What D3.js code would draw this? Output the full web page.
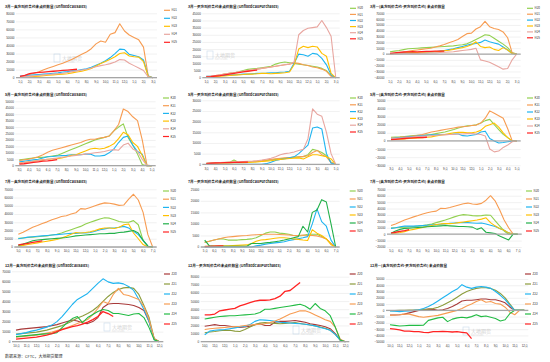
<!DOCTYPE html>
<html>
<head>
<meta charset="utf-8">
<script src="https://cdn.jsdelivr.net/npm/d3@7"></script>
<style>
  body { margin: 0; background: #fff; }
  svg { display: block; font-family: "Noto Sans CJK SC", "Noto Sans", sans-serif; }
</style>
</head>
<body>
<svg id="chart" width="550" height="362"></svg>
<script>
// ---- tick labels (one per month, half-month steps in the series) ----
const monthsMar = ['1月','2月','3月','4月','5月','6月','7月','8月','9月','10月','11月','12月','1月','2月','3月'];
const monthsMay = ['3月','4月','5月','6月','7月','8月','9月','10月','11月','12月','1月','2月','3月','4月','5月'];
const monthsJul = ['5月','6月','7月','8月','9月','10月','11月','12月','1月','2月','3月','4月','5月','6月','7月'];
const monthsDec = ['10月','11月','12月','1月','2月','3月','4月','5月','6月','7月','8月','9月','10月','11月','12月'];

// ---- legend names ----
const namesMarSales = ['H21','H22','H23','H24','H25'];
const namesMar = ['H20','H21','H22','H23','H24','H25'];
const namesMay = ['K20','K21','K22','K23','K24','K25'];
const namesJul = ['N20','N21','N22','N23','N24','N25'];
const namesDec = ['Z20','Z21','Z22','Z23','Z24','Z25'];

// ---- 3月 ----
const marSales = [
  [1000,2500,4000,5500,7500,10000,12000,14000,16000,18000,20500,23000,26000,29000,32000,36000,42000,45500,44000,54000,56000,67000,58000,53000,50000,47000,38000,2000,0],
  [2000,2500,3000,3500,4000,4500,5000,5500,6000,7000,7500,8500,9000,10000,11000,13000,15500,18000,21000,25000,30000,35500,35000,29000,27500,26000,22000,2000,0],
  [500,800,1000,1500,2000,2500,3000,3500,4000,4500,5000,6000,7000,8000,9500,11500,14500,17500,20000,23000,26000,30000,31000,27000,26000,25500,20000,1500,0],
  [1000,1500,2000,2500,3000,3500,4000,4500,5000,5500,6500,7500,8500,9500,10500,12000,13500,15000,16000,17500,19500,22500,22000,18000,15000,12000,9000,1000,0],
  [1500,3000,5000,6000,6500,7000,7500,8000,8500,9000,9500,10000,10500]
];
const marPurch = [
  [500,800,1200,1800,2500,3000,3500,4200,5000,5800,6200,6500,7000,7500,8000,9500,10500,11000,10500,10000,9500,9000,8500,8000,7500,6500,5000,1500,0],
  [500,1000,1500,2000,2500,3000,3500,4000,4500,5000,5500,6000,6500,7000,7500,8000,8500,9000,9500,10500,10000,9000,8500,7500,7000,6000,4500,1000,0],
  [1000,1000,1200,1500,1500,1800,2000,2200,2500,2500,2800,3000,3000,3200,3500,3500,3800,4000,4500,10000,16500,16000,15000,17000,16500,13500,9000,2000,0],
  [500,500,800,1000,1200,1500,1800,2000,2200,2500,2500,2800,3000,3000,2800,3000,3200,3500,4000,9000,20000,22000,21000,22000,21500,17000,15000,3000,0],
  [1000,1200,1500,2000,2500,3000,3500,4000,4500,5000,5500,6000,6500,7000,7500,8000,8500,9000,9500,11000,30000,33000,34500,35000,35500,40000,35000,29000,500],
  [500,800,1200,1500,2000,2500,3000,3500,4000,4500,5000,5300]
];
const marDiff = [
  [4000,5000,6000,7500,9000,9500,10000,10500,11000,11500,12000,12500,13000,13500,14000,15000,16000,17500,21000,25000,29000,33000,32000,27000,22000,17000,11000,2000,0],
  [0,1000,2000,3000,4500,6000,7000,8000,9000,10000,12000,14000,16500,19500,22000,25000,30000,35000,36000,43000,47000,56000,47000,44000,42000,38000,28000,2000,0],
  [1000,1000,1500,1500,2000,2500,2500,3000,3000,3500,4000,5000,6000,7500,9000,11000,13000,15000,17000,18000,20000,24000,21000,19000,17000,12000,7000,1000,0],
  [500,1000,1200,1500,2000,2200,2500,2800,3000,3500,4000,4500,5500,6500,8000,9500,11000,13000,16000,21000,13000,11000,12000,8000,6000,11000,7000,1000,0],
  [0,500,500,800,1000,1000,1200,1500,1500,1800,2000,2500,3000,3500,4000,5000,6000,7000,8000,10000,-10000,-12000,-14000,-18000,-22000,-26000,-25000,-10000,0],
  [1000,2000,3000,3500,3800,4000,3800,4200,4500,4500,5000,5000,5000]
];

// ---- 5月 ----
const maySales = [
  [4500,5000,5500,6000,6500,6500,7000,7500,8000,9500,11000,12500,14000,15500,17000,18500,20000,21000,22000,23000,27000,30000,32500,22000,16000,9000,1000,0,0],
  [4000,4500,5000,6000,7000,8500,10500,12000,13000,14000,15000,16000,17000,18000,19500,20500,20500,21500,22000,23000,27000,32000,44000,42000,38000,35000,20000,500,0],
  [3000,3500,4000,4500,5000,6000,7000,7200,7500,7800,8000,8500,8500,8500,9000,9000,7500,7500,8000,10000,13000,18000,22000,23000,16000,11000,9000,0,0],
  [2000,2500,3000,3500,4000,4500,5000,5200,5500,6000,7000,8000,8500,10000,11500,13000,13500,13000,13500,15000,17000,21000,26000,24000,18000,15000,8000,0,0],
  [2000,2500,3000,3500,4000,4500,5000,5500,6000,6500,7000,7500,8000,8500,9000,9500,10000,10500,11000,12000,12500,12000,16000,17500,13000,11000,5000,0,0],
  [1200,1500,2000,2500,3000,3500,3800,4200,4700]
];
const mayPurch = [
  [500,600,700,800,800,900,2000,900,1000,1100,1200,1300,1500,1800,2000,2300,2600,2800,3000,3300,3500,3600,4500,7000,6500,5500,4000,1000,0],
  [500,500,600,700,800,900,1000,1000,1100,1200,1300,1500,1700,2000,2300,2600,2800,3000,3200,3400,3500,3700,4000,5500,6500,4500,3500,800,0],
  [0,0,0,0,0,0,0,0,0,0,0,0,0,300,1000,1800,2300,2600,3000,3500,5000,7000,9000,17000,17500,16500,5000,500,0],
  [300,400,500,500,600,600,700,700,800,900,1000,1100,1300,1500,1700,2000,2300,2500,2700,2900,3000,2500,3500,4500,4500,4000,3500,2500,0],
  [500,600,700,800,900,1000,1100,1200,1300,1400,1500,1700,2000,2400,2800,3500,4500,5000,5300,5800,6500,7000,12000,26000,23500,22500,15000,5000,0],
  [300,500,600,700,800,800,900,900,1000,1000]
];
const mayDiff = [
  [4500,4800,5000,5500,6000,6500,7000,7000,7500,8000,9000,10000,11000,12500,14000,16000,17500,18500,19000,20000,22000,25000,26500,20000,14000,8000,4000,0,0],
  [3500,4000,4500,5000,5500,6000,7000,8000,9500,11000,12000,13000,14000,15000,16000,17000,17500,18000,19000,19500,22000,28000,37000,34000,31000,28000,15000,0,0],
  [3000,3500,4000,4500,5000,5500,6000,6500,7000,7500,7500,8000,8000,8000,8500,8500,6500,6000,7000,8000,11000,12000,3000,0,-2500,-2000,-1000,0,0],
  [1500,1800,2000,2500,3000,3500,3800,4000,4500,5000,6000,7000,8000,9000,10000,10500,10500,10000,10000,11000,13000,18000,20000,22000,17000,10000,4000,0,0],
  [2500,3000,3500,4000,4500,5000,5500,6000,6000,6500,7000,7500,7500,8000,8000,8500,8500,9000,9000,8500,8000,6000,-10000,-13500,-12500,-8000,-5000,-1000,0],
  [1500,2000,2500,3000,3500,3800,4000,4200,4500]
];

// ---- 7月 ----
const julSales = [
  [10500,11000,11500,12000,12500,13000,13500,14500,15500,17000,19000,21000,23000,25000,28000,30000,32000,34000,35500,35000,33000,31000,30000,30000,32000,27000,8000,1000,0],
  [15500,18000,21000,24000,26000,28500,30500,33000,35000,37000,38000,40000,41500,46500,46000,48000,50000,52000,53500,53000,52000,50500,51000,58000,64000,57000,42000,15000,0],
  [10000,11000,12000,12500,13000,13500,14000,14500,15000,15500,16000,16500,16500,17000,17000,17500,19000,21000,22000,23000,23000,24000,25000,23000,19000,15000,8000,1000,0],
  [1000,2000,3000,4000,5000,6000,7000,8000,9000,11000,13000,15500,17500,17000,17500,18500,20000,22000,23000,23000,22500,24000,27000,28000,17000,10000,3000,0,0],
  [2000,3500,5500,7500,8500,9000,9500,10000,10500,11000,11500,12500,13500,14000,14500,15000,15500,16000,16000,16500,16500,17500,18000,19000,20000,17000,8000,1000,0],
  [2500,3500,4500,5500,6500,7500]
];
const julPurch = [
  [2000,2500,3000,3500,3500,3000,3000,3000,3200,3300,3500,4000,5000,6000,6500,6500,6000,5800,5500,5000,4800,5000,5500,5500,5500,4500,3500,1500,0],
  [2000,2500,3000,3500,4000,4300,4500,4700,4900,5000,5200,5300,5400,5500,5500,5500,5400,5300,5200,5000,5000,5200,5000,5000,4800,4200,3500,1500,0],
  [0,0,0,0,0,0,0,0,0,0,0,500,800,1200,1500,1800,2000,2300,2800,3200,3600,4000,4500,10000,16500,11000,9000,3000,0],
  [300,300,400,400,500,500,600,700,800,900,1500,2500,3000,3200,3500,3800,4000,4000,3800,3500,3300,3000,2800,7500,6000,5000,3500,1000,0],
  [3000,500,300,300,300,300,300,300,300,300,1500,1500,1500,1800,2000,2300,2600,3000,3500,4000,4500,9000,6500,15000,16000,20500,19500,10000,0],
  [200,300,400,500,500]
];
const julDiff = [
  [9500,10000,10500,11000,11500,12000,12500,13500,14500,16000,18000,20000,22000,24500,27000,29000,30500,30000,29000,28500,29000,30000,29500,21000,13000,5000,0,0,0],
  [13500,16000,19000,22000,24500,27000,29000,31500,33500,35000,36000,40500,40000,41500,43500,45500,47500,48500,47000,46500,48000,53000,60000,52000,38000,22000,10000,0,0],
  [9000,10000,11500,12500,12500,12500,13000,13500,14000,14500,15000,15500,16000,17000,17500,18000,18000,18000,17500,17000,17500,16000,14000,12000,9000,6000,2000,0,0],
  [1000,1500,2500,4000,6000,7500,9000,10500,12000,13500,15000,16000,16500,16500,17000,18000,19000,20000,21000,22000,23500,25500,18000,13000,9000,6000,2000,0,0],
  [1500,5000,7500,9000,9500,10000,10500,11000,11500,12000,12500,13000,13500,13000,12500,12000,12000,11500,11000,7500,10000,3000,2000,1000,-3000,-6000,-9000,0,0],
  [1500,3000,4500,5500,7000]
];

// ---- 12月 ----
const decSales = [
  [11500,12500,13000,13500,14000,14500,15000,16000,17000,18500,20000,21500,20500,18500,18000,20000,24000,34000,37500,38000,38000,37500,37000,36000,34000,31000,20000,3000,0],
  [7500,8000,8500,9000,9500,10500,11500,13000,14500,16000,18000,20500,23500,25500,28000,31000,35000,40000,45000,49000,52000,53500,54000,53000,47000,36000,24000,3000,0],
  [7000,8000,9000,10500,11500,13000,14500,16500,20000,25000,31000,37000,42000,45000,48000,53000,58000,62500,59500,58000,58500,57500,55000,51000,42000,32000,20000,2000,0],
  [4500,5000,5500,6000,6500,7500,8500,9500,11000,12500,14000,16000,18000,20000,22000,27000,33000,40000,38000,47000,53000,47000,46000,44000,42000,35000,22000,3000,0],
  [5000,5500,6000,6500,7000,7500,7800,8000,9000,14000,19000,23000,25000,19000,24000,27000,30000,32000,31000,28000,28000,27000,26000,27500,28000,24000,14000,2000,0],
  [2500,3000,3500,4000,4500,5500,6500,8000,10000,12000,13500,15000,16000,17500,19500,22000,25000,30000,28000,25000]
];
const decPurch = [
  [19000,20000,21000,20000,20000,19000,18000,17500,18000,19000,21000,22000,20000,20000,24000,25000,25000,25500,26000,25000,24000,22000,21000,20000,18500,16000,10000,2000,0],
  [11000,12000,12500,13500,14000,14000,13000,12500,15000,18000,21000,23000,23500,23000,22500,22000,22500,23000,23500,22500,21500,20500,19500,18000,16500,14000,9000,2000,0],
  [8500,13000,14000,14500,15000,16000,17000,18000,19000,21000,25000,27000,26500,26000,25000,24000,23500,23000,22500,22000,21500,20500,19500,17500,16000,14000,9000,2000,0],
  [15000,16000,16500,17000,17500,18000,18500,19000,20000,20500,21000,21500,22000,23500,25500,28000,31000,34000,36000,38000,38000,36000,33000,30000,27000,25000,18000,3000,0],
  [28000,29000,30000,31000,31500,32000,32000,32500,33000,33500,34000,36000,40000,40000,41000,42000,43000,44000,45000,46000,44000,40000,47000,41000,38000,32000,18000,2000,0],
  [33000,33000,34000,38000,39000,40000,41000,44000,46000,48000,50000,51000,51000,51500,53000,56000,62000,63000,68000,73000]
];
const decDiff = [
  [-7500,-7500,-7000,-6000,-4000,-2000,0,1000,2000,1500,0,1000,3000,6000,10000,15000,16000,16000,17000,18000,18000,17000,17000,15000,12000,5000,0,0,0],
  [-500,-500,0,0,500,500,1000,1500,2000,3000,5000,8000,12000,16000,21000,26000,30000,33000,35000,36000,36000,35000,32000,27000,20000,10000,0,0,0],
  [-1000,-1500,-2000,-1500,-1000,0,1000,3000,6000,10000,15000,20000,25000,30000,34000,41000,37000,35000,37000,38000,37000,35000,30000,24000,17000,8000,0,0,0],
  [-8000,-7500,-7000,-6000,-6000,-8000,-10000,-11000,-10000,-9000,-8000,-6000,-4000,-2000,0,3000,7000,10000,14000,17000,13000,14000,11000,10000,5000,-3000,-7000,0,0],
  [-23000,-24000,-25000,-24500,-24000,-24000,-24000,-23500,-16000,-14000,-12000,-11000,-18000,-14000,-12000,-11000,-12000,-10000,-7000,-10000,-9000,-11000,-13000,-17000,-15000,-5000,0,0,0],
  [-29000,-30000,-31000,-33000,-33000,-34000,-34000,-35000,-35500,-34000,-34000,-33500,-34000,-34500,-34000,-35000,-36000,-45000]
];

// ---- colours ----
const colorsMarSales = ['#f79c52','#1fb4f0','#ffc000','#e8a6a0','#ff2323'];
const colorsSix = ['#92d050','#f79c52','#1fb4f0','#ffc000','#e8a6a0','#ff2323'];
const colorsJul = ['#92d050','#f79c52','#1fb4f0','#ffc000','#22b04a','#ff2323'];
const colorsDec = ['#a83a3a','#8c9c3c','#1fb4f0','#f79c52','#22bb44','#ff2323'];

const titleSales = m => `${m}—卖方叫价合约未点价数量 (UnfixedCallSales)`;
const titlePurch = m => `${m}—买方叫价合约未点价数量 (UnfixedCallPurchases)`;
const titleDiff = m => `${m}—(卖方叫价合约-买方叫价合约) 未点价数量`;

const colX = [0, 183, 365];
const rowY = [0, 88, 176, 264];

const panels = [
  {c:0,r:0,title:titleSales('3月'),labels:monthsMar,names:namesMarSales,colors:colorsMarSales,data:marSales,dom:[0,80000],step:10000,xr:[20,153],yr:[77.7,13.3],tY:6.5,lY:82.5,lgx:164,lgy:10.3,lgdy:8,mark:[62,60]},
  {c:1,r:0,title:titlePurch('3月'),labels:monthsMar,names:namesMar,colors:colorsSix,data:marPurch,dom:[0,45000],step:5000,xr:[23.3,152.7],yr:[77.7,13.3],tY:6.5,lY:82.5,lgx:167,lgy:8.3,lgdy:6.1,mark:[32,57]},
  {c:2,r:0,title:titleDiff('3月'),labels:monthsMar,names:namesMar,colors:colorsSix,data:marDiff,dom:[-40000,70000],step:10000,xr:[25,151.7],yr:[77.3,13.3],tY:6.5,lY:82.5,lgx:162,lgy:8.3,lgdy:5.9},
  {c:0,r:1,title:titleSales('5月'),labels:monthsMay,names:namesMay,colors:colorsSix,data:maySales,dom:[0,50000],step:5000,xr:[19.3,151.7],yr:[77.7,13.3],tY:6.5,lY:82.7,lgx:163,lgy:10,lgdy:7.7},
  {c:1,r:1,title:titlePurch('5月'),labels:monthsMay,names:namesMay,colors:colorsSix,data:mayPurch,dom:[0,30000],step:5000,xr:[23.3,152.7],yr:[76.3,12.3],tY:6.5,lY:82.3,lgx:167,lgy:10,lgdy:6.8},
  {c:2,r:1,title:titleDiff('5月'),labels:monthsMay,names:namesMay,colors:colorsSix,data:mayDiff,dom:[-30000,50000],step:10000,xr:[26,151.7],yr:[77.3,12.3],tY:6.5,lY:82.3,lgx:162,lgy:10,lgdy:7},
  {c:0,r:2,title:titleSales('7月'),labels:monthsJul,names:namesJul,colors:colorsJul,data:julSales,dom:[0,70000],step:10000,xr:[18.3,152.7],yr:[71,13.3],tY:5.5,lY:76.3,lgx:163,lgy:15,lgdy:8.2},
  {c:1,r:2,title:titlePurch('7月'),labels:monthsJul,names:namesJul,colors:colorsJul,data:julPurch,dom:[0,25000],step:5000,xr:[21.7,152.7],yr:[71,13.3],tY:5.5,lY:76.3,lgx:166.7,lgy:15,lgdy:8},
  {c:2,r:2,title:titleDiff('7月'),labels:monthsJul,names:namesJul,colors:colorsJul,data:julDiff,dom:[-20000,70000],step:10000,xr:[26,152.7],yr:[71,13.3],tY:5.5,lY:76.3,lgx:161,lgy:15,lgdy:8},
  {c:0,r:3,title:titleSales('12月'),labels:monthsDec,names:namesDec,colors:colorsDec,data:decSales,dom:[0,70000],step:10000,xr:[16,159.3],yr:[77.7,7.3],tY:1.8,lY:83.3,lgx:164,lgy:10,lgdy:10,mark:[112,65]},
  {c:1,r:3,title:titlePurch('12月'),labels:monthsDec,names:namesDec,colors:colorsDec,data:decPurch,dom:[0,80000],step:10000,xr:[21.7,162.3],yr:[77.7,12.7],tY:1.8,lY:83.3,lgx:166.7,lgy:10,lgdy:10,mark:[118,68]},
  {c:2,r:3,title:titleDiff('12月'),labels:monthsDec,names:namesDec,colors:colorsDec,data:decDiff,dom:[-50000,50000],step:10000,xr:[25,159.3],yr:[77.7,15],tY:1.8,lY:83.3,lgx:160,lgy:10,lgdy:10,mark:[106,69]}
];

const svg = d3.select('#chart');

panels.forEach(p => {
  const g = svg.append('g')
    .attr('transform', `translate(${colX[p.c]},${rowY[p.r]})`);

  const x = d3.scaleLinear().domain([0, 14]).range(p.xr);
  const y = d3.scaleLinear().domain(p.dom).range(p.yr);
  const left = p.xr[0] - 4, right = p.xr[1] + 4;

  // title
  g.append('text')
    .attr('x', 5).attr('y', p.tY + 1.5)
    .attr('font-size', 3.6).attr('font-weight', 'bold').attr('fill', '#222')
    .text(p.title);

  // gridlines + y labels
  const yTicks = d3.range(p.dom[0], p.dom[1] + 1, p.step);
  const yAxis = d3.axisLeft(y).tickValues(yTicks).tickFormat(d3.format('d'))
    .tickSize(-(right - left)).tickPadding(1.5);
  const yG = g.append('g').attr('transform', `translate(${left},0)`).call(yAxis);
  yG.select('.domain').remove();
  yG.selectAll('line').attr('stroke', '#dcdcdc').attr('stroke-width', 0.4);
  yG.selectAll('text').attr('font-size', 3).attr('fill', '#333').attr('font-family', 'Liberation Sans, sans-serif');

  // watermark
  if (p.mark) {
    const m = g.append('g').attr('transform', `translate(${p.mark[0]},${p.mark[1]})`).attr('opacity', 0.35);
    m.append('rect').attr('x', -8).attr('y', -6).attr('width', 6).attr('height', 8)
      .attr('fill', 'none').attr('stroke', '#6a9ccc').attr('stroke-width', 0.6);
    m.append('text').attr('x', 0).attr('y', 0).attr('font-size', 5).attr('fill', '#777').text('大地期货');
    m.append('text').attr('x', 0).attr('y', 3).attr('font-size', 1.8).attr('fill', '#999').text('DADI FUTURES');
  }

  // x labels
  const xAxis = d3.axisBottom(x).tickValues(d3.range(15)).tickFormat(i => p.labels[i]).tickSize(0).tickPadding(0);
  const xG = g.append('g').attr('transform', `translate(0,${p.lY - 2})`).call(xAxis);
  xG.select('.domain').remove();
  xG.selectAll('text').attr('font-size', 3).attr('fill', '#333');

  // series
  const line = d3.line()
    .defined(v => v != null)
    .x((v, i) => x(i * 0.5))
    .y(v => y(v));
  p.data.forEach((s, k) => {
    g.append('path')
      .datum(s)
      .attr('fill', 'none')
      .attr('stroke', p.colors[k])
      .attr('stroke-width', k === p.data.length - 1 ? 1.3 : 1.1)
      .attr('stroke-linejoin', 'round')
      .attr('d', line);
  });

  // zero line
  g.append('line')
    .attr('x1', left).attr('x2', right)
    .attr('y1', y(0)).attr('y2', y(0))
    .attr('stroke', '#a6a6a6').attr('stroke-width', 1.3);

  // legend
  const lg = g.append('g').attr('transform', `translate(${p.lgx},${p.lgy})`);
  p.names.forEach((n, k) => {
    const it = lg.append('g').attr('transform', `translate(0,${k * p.lgdy})`);
    it.append('line').attr('x1', 0).attr('x2', 6).attr('stroke', p.colors[k]).attr('stroke-width', 1.2);
    it.append('text').attr('x', 7.5).attr('y', 1.1).attr('font-size', 3).attr('fill', '#333').text(n);
  });
});

svg.append('text')
  .attr('x', 5).attr('y', 358)
  .attr('font-size', 4).attr('fill', '#333')
  .text('数据来源：CFTC，大地期货整理');
</script>
</body>
</html>
